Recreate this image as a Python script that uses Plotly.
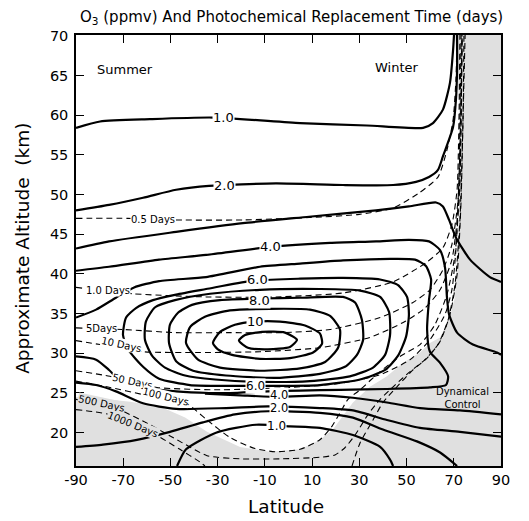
import plotly.graph_objects as go

# ---------------- data (latitude, altitude km) ----------------
# Ozone mixing-ratio isopleths (ppmv)
o3_1_top_lat = [-90, -79.8, -58.7, -32.0, 4.9, 33.2, 57.0, 61.2, 65.4, 68.4, 69.7, 70.1]
o3_1_top_alt = [58.4, 59.2, 59.5, 59.7, 59.0, 58.7, 58.4, 59.0, 60.7, 64.1, 68.2, 70.1]

o3_2_top_lat = [-90, -76.0, -61.6, -47.6, -33.7, -5.3, 23.1, 44.3, 54.0, 59.5, 63.3, 65.4, 69.7, 70.9, 71.4, 71.4]
o3_2_top_alt = [48.0, 48.7, 49.6, 50.6, 51.1, 51.4, 51.2, 51.2, 51.6, 52.2, 53.1, 54.8, 58.5, 61.9, 65.7, 70.1]

o3_3_lat = [-90, -76.0, -47.6, -19.3, 8.7, 37.1, 51.0, 62.5, 65.4, 68.0, 70.9, 76.9, 85.3, 90]
o3_3_alt = [43.2, 44.1, 45.3, 46.4, 47.2, 48.0, 48.5, 49.0, 48.5, 46.8, 44.6, 41.8, 39.6, 39.0]

o3_4_top_lat = [-90, -76.0, -54.8, -34.9, -7.8, 17.6, 37.1, 51.0, 59.5, 64.2, 66.3, 67.1, 68.0, 71.4, 78.1, 88.3, 90]
o3_4_top_alt = [40.4, 40.9, 41.8, 42.4, 43.4, 43.9, 44.1, 44.3, 44.1, 43.0, 40.8, 37.1, 34.9, 32.6, 31.1, 30.1, 29.8]

o3_5_lat = [-90, -81.5, -73.1, -65.4, -54.8, -34.9, -12.1, 4.9, 23.1, 43.0, 53.6, 58.2, 60.4, 59.5, 58.7,
            59.9, 64.2, 67.6, 66.7, 59.9, 41.7, 21.8, 4.9, -8.7, -24.8, -33.7, -47.6, -61.6, -71.8, -76.0, -81.5, -90]
o3_5_alt = [34.5, 35.5, 37.0, 38.3, 39.1, 39.6, 40.9, 41.3, 41.7, 41.9, 41.8, 41.0, 39.3, 36.7, 33.0,
            30.2, 28.8, 27.1, 26.0, 25.7, 25.5, 25.4, 25.3, 25.2, 25.0, 25.0, 25.2, 25.7, 26.7, 27.9, 29.2, 29.6]

o3_6_lat = [-70.1, -68.8, -64.6, -57.4, -47.6, -34.9, -16.3, 4.9, 23.1, 38.8, 46.4, 50.2, 51.0, 49.8, 46.4,
            40.9, 30.3, 13.3, -7.8, -29.0, -41.7, -54.8, -61.6, -68.0, -70.1]
o3_6_alt = [32.3, 34.5, 35.7, 36.7, 37.4, 38.1, 39.1, 39.4, 39.5, 39.3, 38.6, 37.1, 34.9, 32.1, 29.7,
            27.9, 26.7, 26.0, 25.9, 25.9, 26.0, 26.8, 28.3, 30.5, 32.3]

o3_7_lat = [-60.8, -60.4, -56.5, -48.1, -33.2, -12.1, 13.3, 30.3, 38.8, 42.6, 43.0, 40.9, 35.8, 26.0, 9.1,
            -12.1, -31.1, -43.8, -52.3, -57.8, -60.8]
o3_7_alt = [31.7, 34.0, 35.8, 36.7, 37.5, 38.0, 38.1, 37.9, 37.1, 35.2, 32.3, 29.8, 28.2, 27.1, 26.5,
            26.4, 26.7, 27.2, 28.2, 29.7, 31.7]

o3_8_lat = [-50.6, -50.2, -46.8, -40.9, -29.0, -12.1, 4.9, 23.1, 28.2, 31.1, 31.6, 29.0, 23.9, 13.3, -5.3,
            -26.5, -40.4, -47.6, -50.6]
o3_8_alt = [31.3, 33.6, 35.1, 36.1, 36.7, 36.9, 37.0, 37.1, 36.4, 34.2, 31.7, 29.8, 28.3, 27.4, 26.9,
            27.2, 27.8, 29.0, 31.3]

o3_9_lat = [-43.4, -41.7, -35.4, -24.8, -7.8, 9.1, 17.6, 21.8, 21.0, 15.5, 4.9, -12.1, -29.0, -38.3, -43.4]
o3_9_alt = [31.3, 33.3, 34.6, 35.4, 35.6, 35.5, 34.7, 33.0, 30.7, 28.9, 28.1, 27.8, 28.2, 29.2, 31.3]

o3_10_lat = [-32.0, -29.0, -22.7, -14.2, -3.6, 7.0, 13.3, 14.2, 10.4, 0.6, -12.1, -23.9, -29.9, -32.0]
o3_10_alt = [31.3, 32.7, 33.6, 34.0, 34.0, 33.5, 32.5, 31.2, 30.1, 29.4, 29.3, 29.8, 30.5, 31.3]

o3_11_lat = [-21.0, -18.4, -11.2, -1.5, 3.6, 0.6, -8.7, -17.2, -21.0]
o3_11_alt = [31.6, 32.3, 32.7, 32.6, 31.7, 30.8, 30.5, 30.7, 31.6]

o3_4_low_lat = [90, 72.6, 55.7, 41.7, 27.3, 13.3, -3.6, -20.5, -35.4]
o3_4_low_alt = [22.3, 22.8, 23.1, 23.8, 24.4, 24.7, 24.5, 24.7, 24.9]

o3_3_low_lat = [-90, -81.5, -73.1, -61.6, -47.6, -26.5, -8.7, 13.3, 27.3, 41.7, 55.7, 72.6, 90]
o3_3_low_alt = [26.3, 26.0, 25.2, 23.7, 23.0, 23.1, 23.3, 23.1, 22.8, 21.6, 20.6, 20.1, 19.5]

o3_2_low_lat = [-90, -78.6, -64.2, -50.2, -36.2, -22.7, -8.7, 13.3, 27.3, 40.0, 54.4, 64.2, 71.4]
o3_2_low_alt = [18.2, 18.5, 19.1, 20.1, 21.3, 22.3, 22.7, 22.5, 21.9, 20.4, 18.9, 17.5, 15.8]

o3_1_low_lat = [-47.2, -43.4, -30.7, -13.8, 0.6, 13.3, 27.3, 38.8, 43.0, 44.3]
o3_1_low_alt = [15.8, 17.9, 20.0, 21.0, 20.8, 20.6, 19.7, 18.2, 16.6, 15.8]

# Photochemical replacement time isopleths (days)
t_05_lat = [-90, -68.0, -47.6, -19.3, 8.7, 29.9, 44.3, 55.3, 63.3, 67.1, 69.7, 70.9, 71.4]
t_05_alt = [47.0, 47.0, 46.8, 46.8, 47.1, 47.5, 48.3, 50.2, 52.2, 55.6, 59.4, 64.4, 70.1]

t_1_lat = [-90, -65.9, -34.9, -5.3, 23.1, 44.3, 58.2, 65.4, 69.2, 71.4, 72.2, 72.6]
t_1_alt = [38.3, 37.5, 37.1, 37.1, 37.6, 39.0, 41.4, 43.3, 46.2, 50.6, 59.4, 70.1]

t_5_lat = [-90, -70.1, -47.6, -25.2, -3.6, 17.6, 38.8, 52.7, 59.9, 65.4, 69.2, 71.8, 72.6, 73.1]
t_5_alt = [33.2, 33.0, 32.6, 32.6, 32.6, 33.0, 34.5, 36.4, 38.0, 40.5, 43.7, 49.3, 59.4, 70.1]

t_10_lat = [-90, -79.8, -61.6, -37.5, -12.1, 13.3, 34.5, 49.3, 57.8, 64.2, 69.2, 72.2, 73.1, 73.5]
t_10_alt = [31.6, 31.1, 30.2, 30.1, 30.2, 30.7, 32.0, 34.0, 35.7, 38.0, 41.8, 49.3, 59.4, 70.1]

t_50_lat = [-90, -75.6, -55.7, -29.0, 0.6, 21.8, 38.8, 51.5, 59.9, 66.3, 69.2, 70.9, 72.6, 73.5]
t_50_alt = [27.8, 27.1, 25.7, 25.4, 25.7, 26.2, 27.3, 29.2, 31.7, 34.9, 38.0, 43.0, 55.6, 70.1]

t_100_lat = [-90, -75.6, -61.6, -43.8, -34.5, -24.8, -14.2, -5.7, 4.9, 13.3, 18.4, 21.8, 25.2, 30.3, 38.8,
             47.2, 55.7, 62.0, 67.1, 70.5, 72.6, 73.5]
t_100_alt = [26.5, 25.7, 24.8, 23.8, 21.6, 19.4, 18.0, 17.6, 17.9, 19.1, 20.8, 22.5, 24.2, 25.4, 27.7,
             29.6, 31.1, 33.6, 37.4, 42.4, 51.9, 70.1]

t_500_lat = [-90, -71.8, -58.7, -46.0, -34.5, -20.5, -3.6, 13.3, 19.7, 23.9, 28.2, 33.7, 38.8, 45.1, 51.5,
             57.8, 63.3, 67.6, 70.5, 72.6, 73.9, 74.3]
t_500_alt = [24.2, 22.9, 21.0, 18.9, 17.1, 16.7, 16.7, 16.9, 17.2, 18.1, 19.7, 22.3, 24.2, 26.0, 27.7,
             29.2, 31.1, 34.2, 38.6, 46.8, 59.4, 70.1]

t_1000a_lat = [-90, -76.0, -56.1, -46.0, -37.5, -35.4]
t_1000a_alt = [22.9, 22.3, 19.7, 17.9, 16.3, 15.8]
t_1000b_lat = [26.9, 30.3, 35.8, 40.0, 46.0, 52.7, 58.7, 64.2, 68.4, 71.4, 73.1, 73.9, 74.8]
t_1000b_alt = [15.8, 18.7, 21.6, 23.8, 25.8, 27.9, 29.4, 31.5, 34.9, 39.9, 49.3, 59.4, 70.1]

# Region under dynamical control (stippled)
shade_lat = [70.5, 72.2, 72.2, 71.8, 70.5, 68.4, 64.2, 59.9, 55.7, 48.5, 41.7, 34.5, 27.3, 18.8, 13.3,
             4.9, -7.8, -20.5, -34.5, -43.8, -54.4, -67.1, -79.8, -90, -90, 90, 90]
shade_alt = [70.1, 61.9, 49.3, 44.3, 37.1, 34.6, 32.0, 31.3, 30.1, 28.8, 27.1, 25.8, 23.8, 20.4, 19.1,
             17.9, 17.6, 18.2, 20.1, 21.9, 23.3, 23.9, 24.3, 24.5, 15.8, 15.8, 70.1]

# Labels
o3_label_text = ["1.0", "2.0", "4.0", "6.0", "8.0", "10", "6.0", "4.0", "2.0", "1.0"]
o3_label_lat = [-27.7, -27.3, -7.8, -13.3, -12.1, -13.8, -13.8, -4.0, -4.0, -4.9]
o3_label_alt = [59.7, 51.2, 43.4, 39.3, 36.7, 34.0, 25.9, 24.7, 23.1, 20.9]
o3_label_size = [13, 13, 13, 13, 13, 13, 12, 11.5, 11.5, 12]

day_label_text = ["0.5 Days", "1.0 Days", "5Days", "10 Days", "50 Days", "100 Days", "500 Days", "1000 Days"]
day_label_lat = [-57.4, -76.4, -79.0, -70.9, -65.9, -52.3, -79.0, -65.9]
day_label_alt = [46.8, 37.9, 33.1, 31.1, 26.5, 24.5, 23.7, 21.0]
day_label_angle = [0, 0, 0, 12, 12, 14, 12, 22]

x_ticks = [-90, -70, -50, -30, -10, 10, 30, 50, 70, 90]
y_ticks = [20, 25, 30, 35, 40, 45, 50, 55, 60, 65, 70]

# ---------------- figure ----------------
FONT = "DejaVu Sans"
SHADE = "#e0e0e0"
fig = go.Figure()

fig.add_trace(go.Scatter(x=shade_lat, y=shade_alt, fill="toself", fillcolor=SHADE,
                         mode="none", hoverinfo="skip", showlegend=False))

dashed = [(t_05_lat, t_05_alt), (t_1_lat, t_1_alt), (t_5_lat, t_5_alt), (t_10_lat, t_10_alt),
          (t_50_lat, t_50_alt), (t_100_lat, t_100_alt), (t_500_lat, t_500_alt),
          (t_1000a_lat, t_1000a_alt), (t_1000b_lat, t_1000b_alt)]
for xs, ys in dashed:
    fig.add_trace(go.Scatter(x=xs, y=ys, mode="lines", showlegend=False, hoverinfo="skip",
                             line=dict(color="black", width=1.1, dash="6px,4px", shape="spline", smoothing=0.6)))

solid = [(o3_1_top_lat, o3_1_top_alt), (o3_2_top_lat, o3_2_top_alt), (o3_3_lat, o3_3_alt),
         (o3_4_top_lat, o3_4_top_alt), (o3_5_lat, o3_5_alt), (o3_6_lat, o3_6_alt), (o3_7_lat, o3_7_alt),
         (o3_8_lat, o3_8_alt), (o3_9_lat, o3_9_alt), (o3_10_lat, o3_10_alt), (o3_11_lat, o3_11_alt),
         (o3_4_low_lat, o3_4_low_alt), (o3_3_low_lat, o3_3_low_alt), (o3_2_low_lat, o3_2_low_alt),
         (o3_1_low_lat, o3_1_low_alt)]
for xs, ys in solid:
    fig.add_trace(go.Scatter(x=xs, y=ys, mode="lines", showlegend=False, hoverinfo="skip",
                             line=dict(color="black", width=2.2, shape="spline", smoothing=0.6)))

ann = []
for t, x, y, s in zip(o3_label_text, o3_label_lat, o3_label_alt, o3_label_size):
    ann.append(dict(x=x, y=y, xref="x", yref="y", text=t, showarrow=False, xanchor="center", yanchor="middle",
                    font=dict(family=FONT, size=s, color="black"), bgcolor="white", borderpad=0))
for t, x, y, a in zip(day_label_text, day_label_lat, day_label_alt, day_label_angle):
    bg = SHADE if t in ("500 Days", "1000 Days") else "white"
    ann.append(dict(x=x, y=y, xref="x", yref="y", text=t, showarrow=False, textangle=a,
                    xanchor="center", yanchor="middle",
                    font=dict(family=FONT, size=10, color="black"), bgcolor=bg, borderpad=0))

ann += [
    dict(x=-69.2, y=65.7, xref="x", yref="y", text="Summer", showarrow=False, xanchor="center", yanchor="middle",
         font=dict(family=FONT, size=13, color="black")),
    dict(x=46, y=66.0, xref="x", yref="y", text="Winter", showarrow=False, xanchor="center", yanchor="middle",
         font=dict(family=FONT, size=13, color="black")),
    dict(x=73.5, y=24.4, xref="x", yref="y", text="Dynamical<br>Control", showarrow=False,
         xanchor="center", yanchor="middle", font=dict(family=FONT, size=10, color="black")),
    dict(x=0.508, y=1.04, xref="paper", yref="paper",
         text="O<sub>3</sub> (ppmv) And Photochemical Replacement Time (days)",
         showarrow=False, xanchor="center", yanchor="middle", font=dict(family=FONT, size=15, color="black")),
    dict(x=0.494, y=-0.095, xref="paper", yref="paper", text="Latitude", showarrow=False,
         xanchor="center", yanchor="middle", font=dict(family=FONT, size=18.5, color="black")),
    dict(x=-0.125, y=0.506, xref="paper", yref="paper", text="Approximate Altitude  (km)", showarrow=False,
         xanchor="center", yanchor="middle", textangle=-90, font=dict(family=FONT, size=18.5, color="black")),
]

axis_common = dict(showline=True, linecolor="black", linewidth=1.5, mirror="ticks", ticks="inside",
                   ticklen=8, tickwidth=1.2, tickcolor="black", showgrid=False, zeroline=False,
                   tickfont=dict(family=FONT, size=14.5, color="black"))
fig.update_xaxes(range=[-90, 90], tickvals=x_ticks, ticktext=[str(v) for v in x_ticks],
                 ticklabelstandoff=0, **axis_common)
fig.update_yaxes(range=[15.8, 70.1], tickvals=y_ticks, ticktext=[str(v) for v in y_ticks],
                 ticklabelstandoff=3, **axis_common)

fig.update_layout(width=529, height=521, margin=dict(l=76, r=28, t=35, b=55),
                  paper_bgcolor="white", plot_bgcolor="white", annotations=ann,
                  font=dict(family=FONT, color="black"))

fig.write_html("out.html")
